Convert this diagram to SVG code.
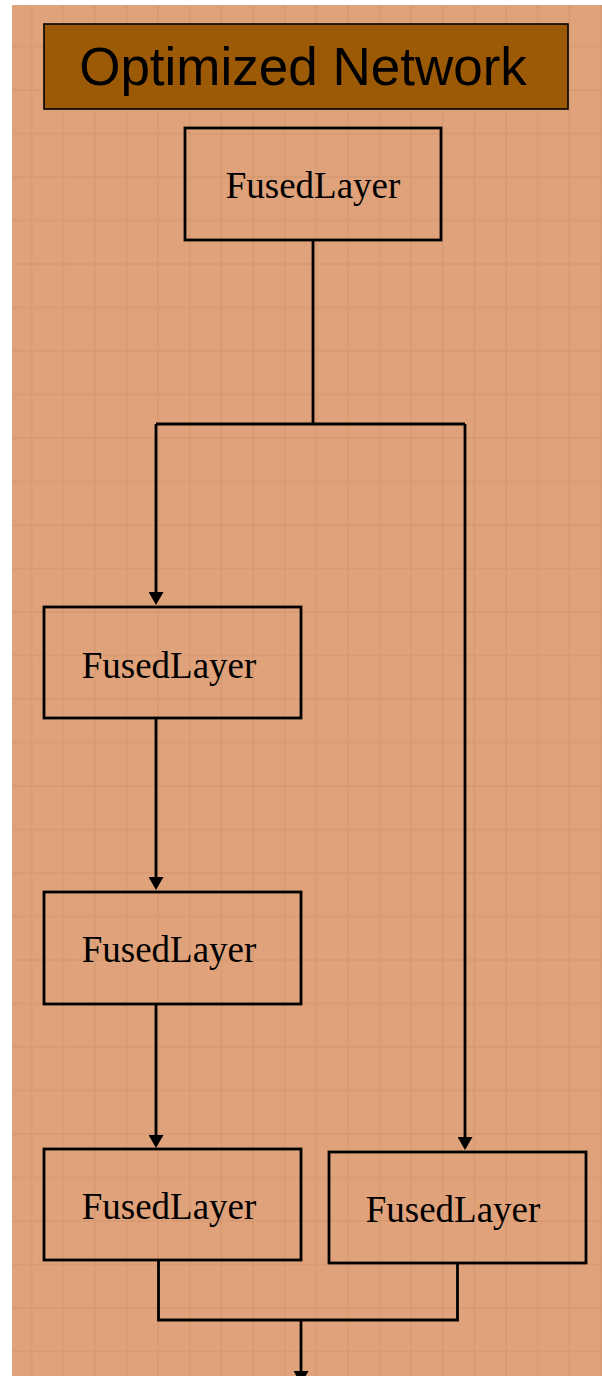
<svg xmlns="http://www.w3.org/2000/svg" width="602" height="1376" viewBox="0 0 602 1376">
  <style>
    .node rect { fill: none; stroke: #000; stroke-width: 2.8; }
    .node text { font-family: "Liberation Serif", "Times New Roman", serif; font-size: 37px; fill: #000; text-anchor: middle; }
    .title rect { fill: #9c5906; stroke: #000; stroke-width: 1.6; }
    .title text { font-family: "Liberation Sans", Arial, sans-serif; font-size: 53px; fill: #000; text-anchor: middle; }
    .conn path { fill: none; stroke: #000; stroke-width: 2.8; }
  </style>
  <defs>
    <pattern id="grid" patternUnits="userSpaceOnUse" x="15.815" y="24.75" width="31.63" height="43.5">
      <path d="M15.815,0 V43.5 M0,21.75 H31.63" fill="none" stroke="#cf916a" stroke-opacity="0.55" stroke-width="1.5"/>
    </pattern>
    <marker id="arrow" viewBox="0 0 13 15" refX="3" refY="7.5" markerWidth="13" markerHeight="15" markerUnits="userSpaceOnUse" orient="auto">
      <path d="M0,0 L13,7.5 L0,15 Z" fill="#000"/>
    </marker>
  </defs>
  <rect x="0" y="0" width="602" height="1376" fill="#ffffff"/>
  <rect x="12" y="5" width="590" height="1371" fill="#dfa27a"/>
  <rect x="12" y="5" width="590" height="1371" fill="url(#grid)"/>

  <g id="title" class="title">
    <rect x="44" y="24" width="524" height="85"/>
    <text x="303" y="85">Optimized Network</text>
  </g>

  <g id="connectors" class="conn">
    <path d="M313,240 V424"/>
    <path d="M156,424 H465"/>
    <path d="M156,424 V595" marker-end="url(#arrow)"/>
    <path d="M465,424 V1140" marker-end="url(#arrow)"/>
    <path d="M156,718 V880" marker-end="url(#arrow)"/>
    <path d="M156,1004 V1138" marker-end="url(#arrow)"/>
    <path d="M158.5,1260 V1320 H457.5 V1263"/>
    <path d="M301,1320 V1374" marker-end="url(#arrow)"/>
  </g>

  <g id="node1" class="node">
    <rect x="185" y="128" width="256" height="112"/>
    <text x="313" y="198">FusedLayer</text>
  </g>
  <g id="node2" class="node">
    <rect x="44" y="607" width="257" height="111"/>
    <text x="169" y="678">FusedLayer</text>
  </g>
  <g id="node3" class="node">
    <rect x="44" y="892" width="257" height="112"/>
    <text x="169" y="962">FusedLayer</text>
  </g>
  <g id="node4" class="node">
    <rect x="44" y="1149" width="257" height="111"/>
    <text x="169" y="1219">FusedLayer</text>
  </g>
  <g id="node5" class="node">
    <rect x="329" y="1152" width="257" height="111"/>
    <text x="453" y="1222">FusedLayer</text>
  </g>
</svg>
